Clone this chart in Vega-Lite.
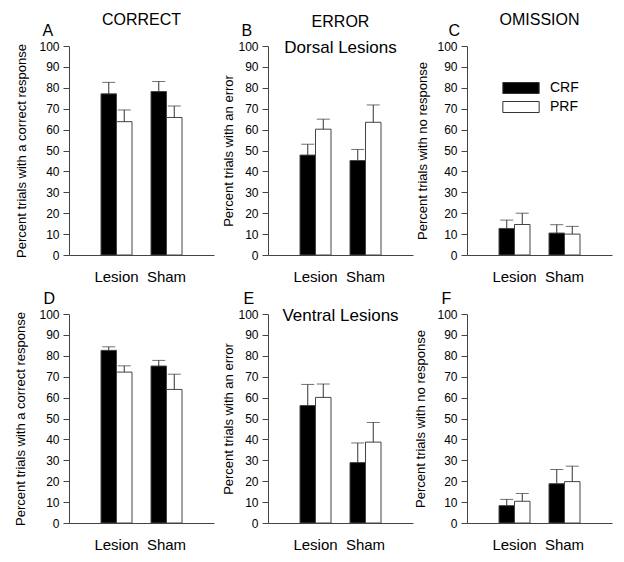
{
  "$schema": "https://vega.github.io/schema/vega-lite/v6.json",
  "autosize": {"type": "pad"},
  "padding": {"left": 14, "top": 12, "right": 5, "bottom": 5},
  "background": "white",
  "data": {"values": [
    {"panel": "A", "group": "Lesion", "cond": "CRF", "value": 77.1, "upper": 82.6},
    {"panel": "A", "group": "Lesion", "cond": "PRF", "value": 63.8, "upper": 69.4},
    {"panel": "A", "group": "Sham", "cond": "CRF", "value": 78.2, "upper": 83.0},
    {"panel": "A", "group": "Sham", "cond": "PRF", "value": 65.8, "upper": 71.3},
    {"panel": "B", "group": "Lesion", "cond": "CRF", "value": 47.8, "upper": 53.0},
    {"panel": "B", "group": "Lesion", "cond": "PRF", "value": 60.2, "upper": 65.0},
    {"panel": "B", "group": "Sham", "cond": "CRF", "value": 45.2, "upper": 50.5},
    {"panel": "B", "group": "Sham", "cond": "PRF", "value": 63.5, "upper": 71.8},
    {"panel": "C", "group": "Lesion", "cond": "CRF", "value": 12.7, "upper": 16.7},
    {"panel": "C", "group": "Lesion", "cond": "PRF", "value": 14.6, "upper": 20.0},
    {"panel": "C", "group": "Sham", "cond": "CRF", "value": 10.5, "upper": 14.5},
    {"panel": "C", "group": "Sham", "cond": "PRF", "value": 10.0, "upper": 13.7},
    {"panel": "D", "group": "Lesion", "cond": "CRF", "value": 82.6, "upper": 84.3},
    {"panel": "D", "group": "Lesion", "cond": "PRF", "value": 72.2, "upper": 75.2},
    {"panel": "D", "group": "Sham", "cond": "CRF", "value": 75.1, "upper": 77.8},
    {"panel": "D", "group": "Sham", "cond": "PRF", "value": 63.9, "upper": 71.2},
    {"panel": "E", "group": "Lesion", "cond": "CRF", "value": 56.2, "upper": 66.3},
    {"panel": "E", "group": "Lesion", "cond": "PRF", "value": 60.1, "upper": 66.5},
    {"panel": "E", "group": "Sham", "cond": "CRF", "value": 28.9, "upper": 38.3},
    {"panel": "E", "group": "Sham", "cond": "PRF", "value": 38.7, "upper": 48.1},
    {"panel": "F", "group": "Lesion", "cond": "CRF", "value": 8.3, "upper": 11.3},
    {"panel": "F", "group": "Lesion", "cond": "PRF", "value": 10.4, "upper": 14.1},
    {"panel": "F", "group": "Sham", "cond": "CRF", "value": 18.8, "upper": 25.6},
    {"panel": "F", "group": "Sham", "cond": "PRF", "value": 19.8, "upper": 27.2}
  ]},
  "columns": 3,
  "spacing": {"row": 59, "column": 54},
  "bounds": "flush",
  "resolve": {"legend": {"fill": "independent"}},
  "concat": [
    {
      "width": 145, "height": 209,
      "title": {"text": "CORRECT", "anchor": "middle", "frame": "group", "offset": -6, "fontSize": 16},
      "transform": [{"filter": "datum.panel == 'A'"}],
      "encoding": {
        "x": {"field": "group", "type": "nominal", "sort": ["Lesion", "Sham"], "scale": {"paddingInner": 0.38, "paddingOuter": 0.64}, "axis": {"orient": "bottom", "title": null, "labelAngle": 0, "ticks": false, "tickSize": 0, "labelFontSize": 15, "labelPadding": 14}},
        "xOffset": {"field": "cond", "type": "nominal", "sort": ["CRF", "PRF"], "scale": {"paddingInner": 0, "paddingOuter": 0}},
        "y": {"field": "value", "type": "quantitative", "scale": {"domain": [0, 100], "nice": false}, "axis": {"orient": "left", "title": "Percent trials with a correct response", "values": [0, 10, 20, 30, 40, 50, 60, 70, 80, 90, 100], "tickSize": 6, "labelPadding": 4, "labelFontSize": 12, "titleFontSize": 13, "titlePadding": 10}}
      },
      "layer": [
        {"mark": {"type": "bar", "stroke": "#444", "strokeWidth": 1},
         "encoding": {"fill": {"field": "cond", "type": "nominal", "scale": {"domain": ["CRF", "PRF"], "range": ["black", "white"]}, "legend": null}}},
        {"mark": {"type": "rule", "color": "#333", "strokeWidth": 1},
         "encoding": {
           "x": {"field": "group", "type": "nominal", "sort": ["Lesion", "Sham"], "scale": {"paddingInner": 0.38, "paddingOuter": 0.64}, "axis": null},
           "y2": {"field": "upper"}}},
        {"mark": {"type": "tick", "orient": "horizontal", "color": "#333", "thickness": 1, "size": 13},
         "encoding": {
           "x": {"field": "group", "type": "nominal", "sort": ["Lesion", "Sham"], "scale": {"paddingInner": 0.38, "paddingOuter": 0.64}, "axis": {"orient": "top", "domain": false, "ticks": false, "labels": false, "title": "A", "titleFontSize": 16, "titleAnchor": "start", "titleAlign": "left", "titleBaseline": "alphabetic", "titleX": -27, "titleY": -11}},
           "y": {"field": "upper", "type": "quantitative", "scale": {"domain": [0, 100], "nice": false}, "axis": {"orient": "left", "title": "Percent trials with a correct response", "values": [0, 10, 20, 30, 40, 50, 60, 70, 80, 90, 100], "tickSize": 6, "labelPadding": 4, "labelFontSize": 12, "titleFontSize": 13, "titlePadding": 10}}
         }}
      ]
    },
    {
      "width": 145, "height": 209,
      "title": {"text": "ERROR", "subtitle": "Dorsal Lesions", "subtitleFontSize": 17, "subtitleColor": "black", "subtitlePadding": 10, "anchor": "middle", "frame": "group", "offset": -34, "fontSize": 16},
      "transform": [{"filter": "datum.panel == 'B'"}],
      "encoding": {
        "x": {"field": "group", "type": "nominal", "sort": ["Lesion", "Sham"], "scale": {"paddingInner": 0.38, "paddingOuter": 0.64}, "axis": {"orient": "bottom", "title": null, "labelAngle": 0, "ticks": false, "tickSize": 0, "labelFontSize": 15, "labelPadding": 14}},
        "xOffset": {"field": "cond", "type": "nominal", "sort": ["CRF", "PRF"], "scale": {"paddingInner": 0, "paddingOuter": 0}},
        "y": {"field": "value", "type": "quantitative", "scale": {"domain": [0, 100], "nice": false}, "axis": {"orient": "left", "title": "Percent trials with an error", "values": [0, 10, 20, 30, 40, 50, 60, 70, 80, 90, 100], "tickSize": 6, "labelPadding": 4, "labelFontSize": 12, "titleFontSize": 13, "titlePadding": 2}}
      },
      "layer": [
        {"mark": {"type": "bar", "stroke": "#444", "strokeWidth": 1},
         "encoding": {"fill": {"field": "cond", "type": "nominal", "scale": {"domain": ["CRF", "PRF"], "range": ["black", "white"]}, "legend": null}}},
        {"mark": {"type": "rule", "color": "#333", "strokeWidth": 1},
         "encoding": {
           "x": {"field": "group", "type": "nominal", "sort": ["Lesion", "Sham"], "scale": {"paddingInner": 0.38, "paddingOuter": 0.64}, "axis": null},
           "y2": {"field": "upper"}}},
        {"mark": {"type": "tick", "orient": "horizontal", "color": "#333", "thickness": 1, "size": 13},
         "encoding": {
           "x": {"field": "group", "type": "nominal", "sort": ["Lesion", "Sham"], "scale": {"paddingInner": 0.38, "paddingOuter": 0.64}, "axis": {"orient": "top", "domain": false, "ticks": false, "labels": false, "title": "B", "titleFontSize": 16, "titleAnchor": "start", "titleAlign": "left", "titleBaseline": "alphabetic", "titleX": -27, "titleY": -11}},
           "y": {"field": "upper", "type": "quantitative", "scale": {"domain": [0, 100], "nice": false}, "axis": {"orient": "left", "title": "Percent trials with an error", "values": [0, 10, 20, 30, 40, 50, 60, 70, 80, 90, 100], "tickSize": 6, "labelPadding": 4, "labelFontSize": 12, "titleFontSize": 13, "titlePadding": 2}}
         }}
      ]
    },
    {
      "width": 145, "height": 209,
      "title": {"text": "OMISSION", "anchor": "middle", "frame": "group", "offset": -6, "fontSize": 16},
      "transform": [{"filter": "datum.panel == 'C'"}],
      "encoding": {
        "x": {"field": "group", "type": "nominal", "sort": ["Lesion", "Sham"], "scale": {"paddingInner": 0.38, "paddingOuter": 0.64}, "axis": {"orient": "bottom", "title": null, "labelAngle": 0, "ticks": false, "tickSize": 0, "labelFontSize": 15, "labelPadding": 14}},
        "xOffset": {"field": "cond", "type": "nominal", "sort": ["CRF", "PRF"], "scale": {"paddingInner": 0, "paddingOuter": 0}},
        "y": {"field": "value", "type": "quantitative", "scale": {"domain": [0, 100], "nice": false}, "axis": {"orient": "left", "title": "Percent trials with no response", "values": [0, 10, 20, 30, 40, 50, 60, 70, 80, 90, 100], "tickSize": 6, "labelPadding": 4, "labelFontSize": 12, "titleFontSize": 13, "titlePadding": 7}}
      },
      "layer": [
        {"mark": {"type": "bar", "stroke": "#444", "strokeWidth": 1},
         "encoding": {"fill": {"field": "cond", "type": "nominal", "scale": {"domain": ["CRF", "PRF"], "range": ["black", "white"]}, "legend": {"orient": "none", "legendX": 47, "legendY": 35, "title": null, "symbolType": "M-3.3,-1H3.3V1H-3.3Z", "symbolSize": 121, "symbolStrokeColor": "#333", "symbolStrokeWidth": 1, "labelFontSize": 14, "labelColor": "black", "labelOffset": 22, "rowPadding": 3, "padding": 0}}}},
        {"mark": {"type": "rule", "color": "#333", "strokeWidth": 1},
         "encoding": {
           "x": {"field": "group", "type": "nominal", "sort": ["Lesion", "Sham"], "scale": {"paddingInner": 0.38, "paddingOuter": 0.64}, "axis": null},
           "y2": {"field": "upper"}}},
        {"mark": {"type": "tick", "orient": "horizontal", "color": "#333", "thickness": 1, "size": 13},
         "encoding": {
           "x": {"field": "group", "type": "nominal", "sort": ["Lesion", "Sham"], "scale": {"paddingInner": 0.38, "paddingOuter": 0.64}, "axis": {"orient": "top", "domain": false, "ticks": false, "labels": false, "title": "C", "titleFontSize": 16, "titleAnchor": "start", "titleAlign": "left", "titleBaseline": "alphabetic", "titleX": -19, "titleY": -11}},
           "y": {"field": "upper", "type": "quantitative", "scale": {"domain": [0, 100], "nice": false}, "axis": {"orient": "left", "title": "Percent trials with no response", "values": [0, 10, 20, 30, 40, 50, 60, 70, 80, 90, 100], "tickSize": 6, "labelPadding": 4, "labelFontSize": 12, "titleFontSize": 13, "titlePadding": 7}}
         }}
      ]
    },
    {
      "width": 145, "height": 209,
      "transform": [{"filter": "datum.panel == 'D'"}],
      "encoding": {
        "x": {"field": "group", "type": "nominal", "sort": ["Lesion", "Sham"], "scale": {"paddingInner": 0.38, "paddingOuter": 0.64}, "axis": {"orient": "bottom", "title": null, "labelAngle": 0, "ticks": false, "tickSize": 0, "labelFontSize": 15, "labelPadding": 14}},
        "xOffset": {"field": "cond", "type": "nominal", "sort": ["CRF", "PRF"], "scale": {"paddingInner": 0, "paddingOuter": 0}},
        "y": {"field": "value", "type": "quantitative", "scale": {"domain": [0, 100], "nice": false}, "axis": {"orient": "left", "title": "Percent trials with a correct response", "values": [0, 10, 20, 30, 40, 50, 60, 70, 80, 90, 100], "tickSize": 6, "labelPadding": 4, "labelFontSize": 12, "titleFontSize": 13, "titlePadding": 11}}
      },
      "layer": [
        {"mark": {"type": "bar", "stroke": "#444", "strokeWidth": 1},
         "encoding": {"fill": {"field": "cond", "type": "nominal", "scale": {"domain": ["CRF", "PRF"], "range": ["black", "white"]}, "legend": null}}},
        {"mark": {"type": "rule", "color": "#333", "strokeWidth": 1},
         "encoding": {
           "x": {"field": "group", "type": "nominal", "sort": ["Lesion", "Sham"], "scale": {"paddingInner": 0.38, "paddingOuter": 0.64}, "axis": null},
           "y2": {"field": "upper"}}},
        {"mark": {"type": "tick", "orient": "horizontal", "color": "#333", "thickness": 1, "size": 13},
         "encoding": {
           "x": {"field": "group", "type": "nominal", "sort": ["Lesion", "Sham"], "scale": {"paddingInner": 0.38, "paddingOuter": 0.64}, "axis": {"orient": "top", "domain": false, "ticks": false, "labels": false, "title": "D", "titleFontSize": 16, "titleAnchor": "start", "titleAlign": "left", "titleBaseline": "alphabetic", "titleX": -26, "titleY": -11}},
           "y": {"field": "upper", "type": "quantitative", "scale": {"domain": [0, 100], "nice": false}, "axis": {"orient": "left", "title": "Percent trials with a correct response", "values": [0, 10, 20, 30, 40, 50, 60, 70, 80, 90, 100], "tickSize": 6, "labelPadding": 4, "labelFontSize": 12, "titleFontSize": 13, "titlePadding": 11}}
         }}
      ]
    },
    {
      "width": 145, "height": 209,
      "title": {"text": "Ventral Lesions", "anchor": "middle", "frame": "group", "offset": -35, "fontSize": 17},
      "transform": [{"filter": "datum.panel == 'E'"}],
      "encoding": {
        "x": {"field": "group", "type": "nominal", "sort": ["Lesion", "Sham"], "scale": {"paddingInner": 0.38, "paddingOuter": 0.64}, "axis": {"orient": "bottom", "title": null, "labelAngle": 0, "ticks": false, "tickSize": 0, "labelFontSize": 15, "labelPadding": 14}},
        "xOffset": {"field": "cond", "type": "nominal", "sort": ["CRF", "PRF"], "scale": {"paddingInner": 0, "paddingOuter": 0}},
        "y": {"field": "value", "type": "quantitative", "scale": {"domain": [0, 100], "nice": false}, "axis": {"orient": "left", "title": "Percent trials with an error", "values": [0, 10, 20, 30, 40, 50, 60, 70, 80, 90, 100], "tickSize": 6, "labelPadding": 4, "labelFontSize": 12, "titleFontSize": 13, "titlePadding": 2}}
      },
      "layer": [
        {"mark": {"type": "bar", "stroke": "#444", "strokeWidth": 1},
         "encoding": {"fill": {"field": "cond", "type": "nominal", "scale": {"domain": ["CRF", "PRF"], "range": ["black", "white"]}, "legend": null}}},
        {"mark": {"type": "rule", "color": "#333", "strokeWidth": 1},
         "encoding": {
           "x": {"field": "group", "type": "nominal", "sort": ["Lesion", "Sham"], "scale": {"paddingInner": 0.38, "paddingOuter": 0.64}, "axis": null},
           "y2": {"field": "upper"}}},
        {"mark": {"type": "tick", "orient": "horizontal", "color": "#333", "thickness": 1, "size": 13},
         "encoding": {
           "x": {"field": "group", "type": "nominal", "sort": ["Lesion", "Sham"], "scale": {"paddingInner": 0.38, "paddingOuter": 0.64}, "axis": {"orient": "top", "domain": false, "ticks": false, "labels": false, "title": "E", "titleFontSize": 16, "titleAnchor": "start", "titleAlign": "left", "titleBaseline": "alphabetic", "titleX": -25, "titleY": -11}},
           "y": {"field": "upper", "type": "quantitative", "scale": {"domain": [0, 100], "nice": false}, "axis": {"orient": "left", "title": "Percent trials with an error", "values": [0, 10, 20, 30, 40, 50, 60, 70, 80, 90, 100], "tickSize": 6, "labelPadding": 4, "labelFontSize": 12, "titleFontSize": 13, "titlePadding": 2}}
         }}
      ]
    },
    {
      "width": 145, "height": 209,
      "transform": [{"filter": "datum.panel == 'F'"}],
      "encoding": {
        "x": {"field": "group", "type": "nominal", "sort": ["Lesion", "Sham"], "scale": {"paddingInner": 0.38, "paddingOuter": 0.64}, "axis": {"orient": "bottom", "title": null, "labelAngle": 0, "ticks": false, "tickSize": 0, "labelFontSize": 15, "labelPadding": 14}},
        "xOffset": {"field": "cond", "type": "nominal", "sort": ["CRF", "PRF"], "scale": {"paddingInner": 0, "paddingOuter": 0}},
        "y": {"field": "value", "type": "quantitative", "scale": {"domain": [0, 100], "nice": false}, "axis": {"orient": "left", "title": "Percent trials with no response", "values": [0, 10, 20, 30, 40, 50, 60, 70, 80, 90, 100], "tickSize": 6, "labelPadding": 4, "labelFontSize": 12, "titleFontSize": 13, "titlePadding": 9}}
      },
      "layer": [
        {"mark": {"type": "bar", "stroke": "#444", "strokeWidth": 1},
         "encoding": {"fill": {"field": "cond", "type": "nominal", "scale": {"domain": ["CRF", "PRF"], "range": ["black", "white"]}, "legend": null}}},
        {"mark": {"type": "rule", "color": "#333", "strokeWidth": 1},
         "encoding": {
           "x": {"field": "group", "type": "nominal", "sort": ["Lesion", "Sham"], "scale": {"paddingInner": 0.38, "paddingOuter": 0.64}, "axis": null},
           "y2": {"field": "upper"}}},
        {"mark": {"type": "tick", "orient": "horizontal", "color": "#333", "thickness": 1, "size": 13},
         "encoding": {
           "x": {"field": "group", "type": "nominal", "sort": ["Lesion", "Sham"], "scale": {"paddingInner": 0.38, "paddingOuter": 0.64}, "axis": {"orient": "top", "domain": false, "ticks": false, "labels": false, "title": "F", "titleFontSize": 16, "titleAnchor": "start", "titleAlign": "left", "titleBaseline": "alphabetic", "titleX": -26, "titleY": -11}},
           "y": {"field": "upper", "type": "quantitative", "scale": {"domain": [0, 100], "nice": false}, "axis": {"orient": "left", "title": "Percent trials with no response", "values": [0, 10, 20, 30, 40, 50, 60, 70, 80, 90, 100], "tickSize": 6, "labelPadding": 4, "labelFontSize": 12, "titleFontSize": 13, "titlePadding": 9}}
         }}
      ]
    }
  ],
  "config": {
    "font": "Liberation Sans",
    "view": {"stroke": null},
    "axis": {"labelColor": "black", "titleColor": "black", "domainColor": "#444", "tickColor": "#444", "grid": false, "titleFontWeight": "normal"},
    "title": {"fontWeight": "normal", "color": "black", "fontSize": 16}
  }
}
